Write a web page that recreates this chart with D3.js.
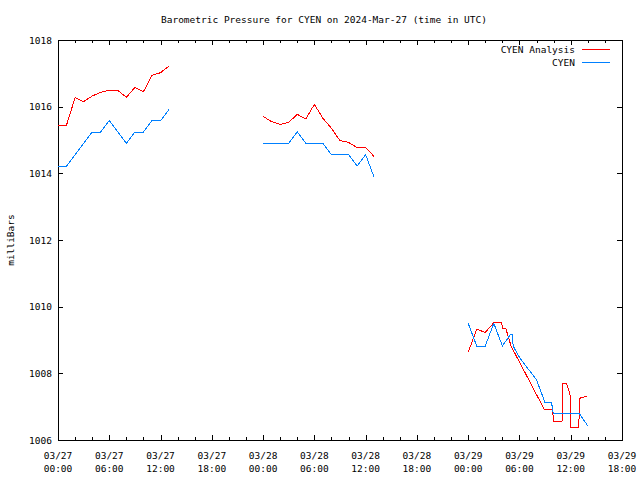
<!DOCTYPE html>
<html><head><meta charset="utf-8">
<script src="https://cdn.jsdelivr.net/npm/d3@7"></script>
<style>
body{margin:0;background:#fff}
text{font-family:"DejaVu Sans Mono","Liberation Mono",monospace;font-size:9.5px;fill:#000}
</style>
</head><body><svg id="c" width="640" height="480"></svg>
<script>
// hours after 2024-03-27 00:00 UTC ; null value = gap in the record
const analysisHours = [0,1,2,3,4,5,6,7,8,9,10,11,12,13,
  18,
  24,25,26,27,28,29,30,31,32,33,34,35,36,37,
  42,
  48,49,50,51,51.9,52.05,52.4,52.8,53.05,54,55,56,56.9,57.88,57.99,58.98,59.02,59.45,59.65,59.95,60.03,60.95,61.02,61.4,61.95];
const analysisValues = [1015.42,1015.45,1016.27,1016.15,1016.32,1016.43,1016.49,1016.49,1016.28,1016.58,1016.45,1016.94,1017.02,1017.22,
  null,
  1015.71,1015.55,1015.47,1015.53,1015.77,1015.63,1016.07,1015.65,1015.35,1014.98,1014.93,1014.77,1014.78,1014.50,
  null,
  1008.63,1009.32,1009.23,1009.52,1009.52,1009.35,1009.35,1009.0,1008.8,1008.34,1007.85,1007.36,1006.92,1006.92,1006.55,1006.55,1007.7,1007.7,1007.6,1007.32,1006.38,1006.38,1007.25,1007.28,1007.32];

const obsHours = [0,1,2,3,4,5,6,7,8,9,10,11,12,13,
  18,
  24,25,26,27,28,29,30,31,32,33,34,35,36,37,
  42,
  48,49,50,51,52,52.93,53.19,53.26,54,55,56,57,57.76,57.95,59,60,61,62];
const obsValues = [1014.22,1014.22,1014.56,1014.90,1015.24,1015.24,1015.58,1015.24,1014.90,1015.24,1015.24,1015.58,1015.58,1015.92,
  null,
  1014.90,1014.90,1014.90,1014.90,1015.24,1014.90,1014.90,1014.90,1014.56,1014.56,1014.56,1014.22,1014.56,1013.88,
  null,
  1009.50,1008.82,1008.82,1009.50,1008.82,1009.16,1009.16,1008.82,1008.48,1008.14,1007.80,1007.12,1007.12,1006.80,1006.80,1006.80,1006.80,1006.42];

const yTicks = [1006,1008,1010,1012,1014,1016,1018];
const seriesNames = ["CYEN Analysis","CYEN"];
const seriesColors = ["#ff0000","#0080ff"];
const titleText = "Barometric Pressure for CYEN on 2024-Mar-27 (time in UTC)";
const yLabel = "milliBars";

const t0 = Date.UTC(2024,2,27,0,0);
const H = 3600e3;
const t1 = t0 + 66*H;

const svg = d3.select("#c");
const L=58, R=622, T=40, B=440;
const x = d3.scaleUtc().domain([new Date(t0), new Date(t1)]).range([L, R]);
const y = d3.scaleLinear().domain([1006,1018]).range([B, T]);

// title
svg.append("text").attr("x",324).attr("y",23).attr("text-anchor","middle").text(titleText);
// y label
svg.append("text").attr("transform","translate(14,240) rotate(-90)").attr("text-anchor","middle").text(yLabel);

const g = svg.append("g").attr("shape-rendering","crispEdges");
// border
g.append("rect").attr("x",L+0.5).attr("y",T+0.5).attr("width",R-L).attr("height",B-T)
  .attr("fill","none").attr("stroke","#000");

// x ticks
const major = d3.utcHour.every(6).range(new Date(t0), new Date(t1+1));
const minor = d3.utcHour.every(2).range(new Date(t0), new Date(t1+1)).filter(d=>d.getUTCHours()%6!==0);
major.forEach(d=>{
  const px = Math.round(x(d))+0.5;
  g.append("line").attr("x1",px).attr("x2",px).attr("y1",B).attr("y2",B-5).attr("stroke","#000");
  g.append("line").attr("x1",px).attr("x2",px).attr("y1",T).attr("y2",T+5).attr("stroke","#000");
  const tx = svg.append("text").attr("x",x(d)).attr("text-anchor","middle");
  tx.append("tspan").attr("x",x(d)).attr("y",459).text(d3.utcFormat("%m/%d")(d));
  tx.append("tspan").attr("x",x(d)).attr("y",472).text(d3.utcFormat("%H:%M")(d));
});
minor.forEach(d=>{
  const px = Math.round(x(d))+0.5;
  g.append("line").attr("x1",px).attr("x2",px).attr("y1",B).attr("y2",B-3).attr("stroke","#000");
  g.append("line").attr("x1",px).attr("x2",px).attr("y1",T).attr("y2",T+3).attr("stroke","#000");
});
// y ticks
yTicks.forEach(v=>{
  const py = Math.round(y(v))+0.5;
  g.append("line").attr("x1",L).attr("x2",L+5).attr("y1",py).attr("y2",py).attr("stroke","#000");
  g.append("line").attr("x1",R).attr("x2",R-5).attr("y1",py).attr("y2",py).attr("stroke","#000");
  svg.append("text").attr("x",52).attr("y",y(v)+3.5).attr("text-anchor","end").text(v);
});

function draw(hours, values, color){
  const pts = hours.map((h,i)=>({t:new Date(t0+h*H), v:values[i]}));
  const line = d3.line().defined(d=>d.v!==null).x(d=>x(d.t)).y(d=>y(d.v));
  svg.append("path").datum(pts).attr("d",line).attr("fill","none")
    .attr("stroke",color).attr("stroke-width",1).attr("shape-rendering","crispEdges");
}
draw(analysisHours, analysisValues, seriesColors[0]);
draw(obsHours, obsValues, seriesColors[1]);

// legend
seriesNames.forEach((n,i)=>{
  const ly = 49.5 + i*13;
  svg.append("text").attr("x",575).attr("y",ly+3.5).attr("text-anchor","end").text(n);
  svg.append("line").attr("x1",582).attr("x2",610).attr("y1",ly).attr("y2",ly)
    .attr("stroke",seriesColors[i]).attr("shape-rendering","crispEdges");
});
</script>
</body></html>
